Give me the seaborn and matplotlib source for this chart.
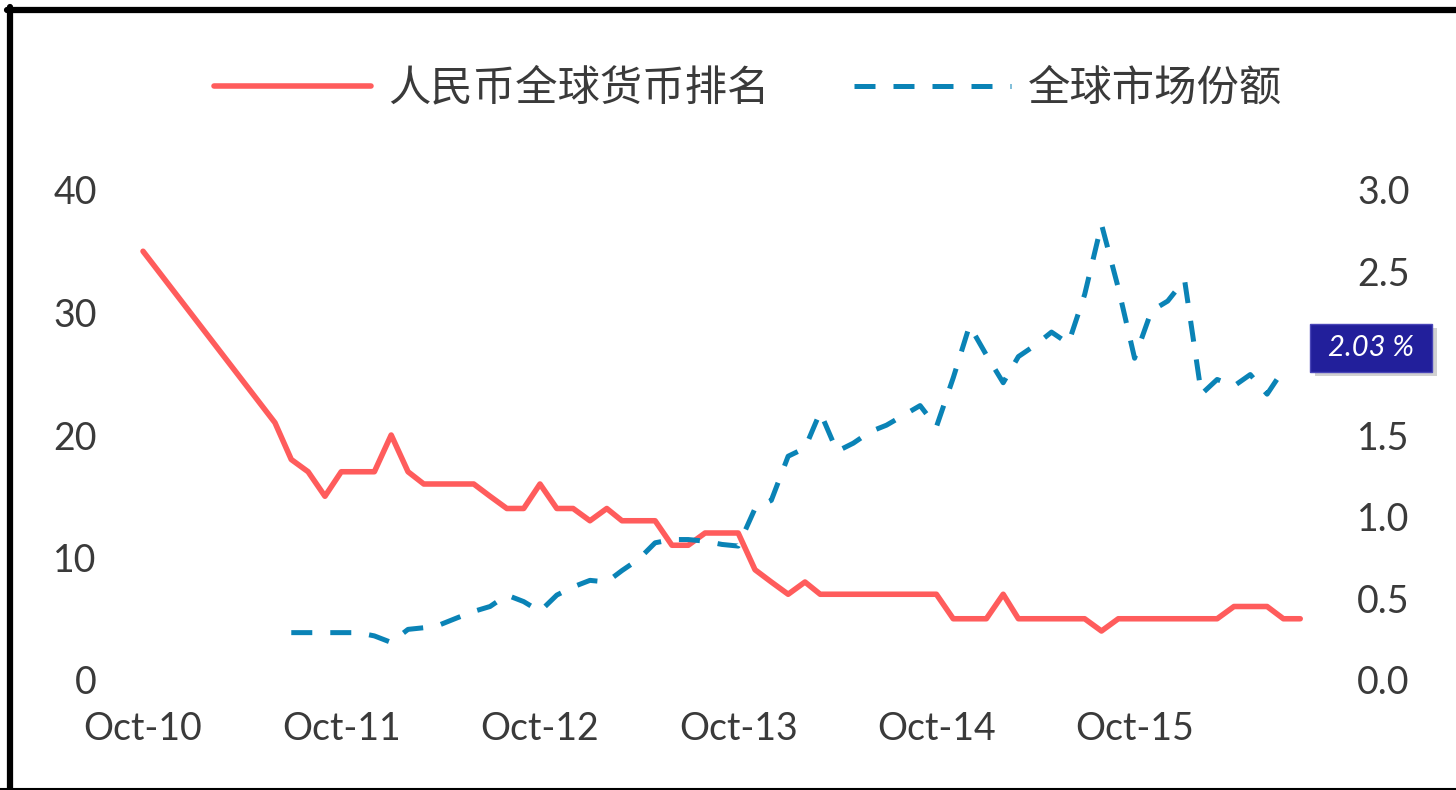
import matplotlib
matplotlib.use("Agg")
import matplotlib.pyplot as plt
import matplotlib.transforms as mtransforms
from matplotlib.patches import Rectangle
from matplotlib.lines import Line2D
import numpy as np
import pandas as pd
import seaborn as sns

# RMB global payments ranking (left axis) - first point, then monthly Jun-11 .. Aug-16
rank_dates = ["2010-10"] + [d.strftime("%Y-%m") for d in pd.date_range("2011-06", "2016-08", freq="MS")]
rank_values = [35,
               21, 18, 17, 15, 17, 17, 17,                      # Jun-Dec 11
               20, 17, 16, 16, 16, 16, 15, 14, 14, 16, 14, 14,  # 2012
               13, 14, 13, 13, 13, 11, 11, 12, 12, 12, 9, 8,    # 2013
               7, 8, 7, 7, 7, 7, 7, 7, 7, 7, 5, 5,              # 2014
               5, 7, 5, 5, 5, 5, 5, 4, 5, 5, 5, 5,              # 2015
               5, 5, 5, 6, 6, 6, 5, 5]                          # Jan-Aug 16

# global market share, % (right axis), monthly Jul-11 .. Jul-16
share_dates = [d.strftime("%Y-%m") for d in pd.date_range("2011-07", "2016-07", freq="MS")]
share_values = [0.29, 0.29, 0.29, 0.29, 0.29, 0.27,                                   # Jul-Dec 11
                0.23, 0.31, 0.32, 0.34, 0.38, 0.42, 0.45, 0.52, 0.48, 0.42, 0.52, 0.57,  # 2012
                0.61, 0.60, 0.67, 0.74, 0.84, 0.86, 0.86, 0.85, 0.83, 0.82, 1.05, 1.10,  # 2013
                1.37, 1.42, 1.64, 1.40, 1.45, 1.52, 1.56, 1.62, 1.68, 1.55, 1.85, 2.17,  # 2014
                1.99, 1.82, 1.98, 2.05, 2.13, 2.06, 2.36, 2.79, 2.40, 1.97, 2.26, 2.32,  # 2015
                2.45, 1.75, 1.84, 1.80, 1.87, 1.75, 1.90]                                # Jan-Jul 16

series_names = ["人民币全球货币排名", "全球市场份额"]
left_ticks = [0, 10, 20, 30, 40]
right_ticks = [0.0, 0.5, 1.0, 1.5, 2.0, 2.5, 3.0]
x_tick_dates = ["2010-10", "2011-10", "2012-10", "2013-10", "2014-10", "2015-10"]
x_tick_labels = ["Oct-10", "Oct-11", "Oct-12", "Oct-13", "Oct-14", "Oct-15"]
latest_share = 2.03

RED = "#FF5C5C"
BLUE = "#0A83B6"
TXT = "#3a3a3a"

rank_df = pd.DataFrame({"date": pd.to_datetime(rank_dates), "rank": rank_values})
share_df = pd.DataFrame({"date": pd.to_datetime(share_dates), "share": share_values})

sns.set_theme(style="white")
plt.rcParams["font.family"] = ["Lato", "Noto Sans CJK SC", "DejaVu Sans"]

fig = plt.figure(figsize=(14.56, 7.90), dpi=100)
ax = fig.add_axes([130 / 1456, 110 / 790, 1180 / 1456, 490 / 790])

sns.lineplot(data=rank_df, x="date", y="rank", ax=ax, color=RED, linewidth=4, label=series_names[0])
ax2 = ax.twinx()
sns.lineplot(data=share_df, x="date", y="share", ax=ax2, color=BLUE, linewidth=3.6,
             linestyle="--", label=series_names[1])
ax2.lines[0].set_dashes((4.2, 3.6))

h1 = ax.lines[0]
h2 = ax2.lines[0]
for a in (ax, ax2):
    if a.get_legend() is not None:
        a.get_legend().remove()
    a.set_xlabel("")
    a.set_ylabel("")
    for s in a.spines.values():
        s.set_visible(False)

ax.set_xlim(pd.Timestamp("2010-09-07"), pd.Timestamp("2016-08-19"))
ax.set_xticks(pd.to_datetime(x_tick_dates))
ax.set_xticklabels(x_tick_labels)
ax.set_ylim(0, 40)
ax.set_yticks(left_ticks)
ax.tick_params(axis="x", length=0, pad=22, labelsize=27, labelcolor=TXT)
ax.tick_params(axis="y", length=0, pad=24, labelsize=27, labelcolor=TXT)

# value tag on the right axis (it sits where the 2.0 label would be)
trans = mtransforms.blended_transform_factory(ax2.transAxes, ax2.transData)
ax2.add_patch(Rectangle((1.004, latest_share - 0.17), 0.1034, 0.294, transform=trans,
                        facecolor="black", alpha=0.18, lw=0, clip_on=False, zorder=9))
ax2.add_patch(Rectangle((1.0, latest_share - 0.147), 0.1034, 0.294, transform=trans,
                        facecolor="#221F9B", edgecolor="#4a46b8", lw=1, clip_on=False, zorder=10))
ax2.text(1.0517, latest_share, f"{latest_share:.2f} %", transform=trans, ha="center", va="center",
         color="white", fontsize=21, style="italic", clip_on=False, zorder=11)

ax2.set_ylim(0, 3)
ax2.set_yticks(right_ticks)
ax2.set_yticklabels(["" if t == 2.0 else f"{t:.1f}" for t in right_ticks])
ax2.tick_params(axis="y", length=0, pad=34, labelsize=27, labelcolor=TXT)

fig.legend(handles=[h1, h2], labels=series_names, loc="center",
           bbox_to_anchor=(748 / 1456, 1 - 88 / 790), ncol=2, frameon=False,
           fontsize=30.5, handlelength=3.7, handletextpad=0.4, columnspacing=2.0,
           labelcolor=TXT)

# outer frame (top + left thick, bottom thin)
fig.add_artist(Line2D([7 / 1456, 1], [1 - 10 / 790, 1 - 10 / 790], color="black", lw=4.5,
                      transform=fig.transFigure))
fig.add_artist(Line2D([10 / 1456, 10 / 1456], [0, 1 - 7 / 790], color="black", lw=4.5,
                      transform=fig.transFigure))
fig.add_artist(Line2D([0, 1], [1.5 / 790, 1.5 / 790], color="black", lw=1.5,
                      transform=fig.transFigure))

fig.savefig("out.png", dpi=100)
